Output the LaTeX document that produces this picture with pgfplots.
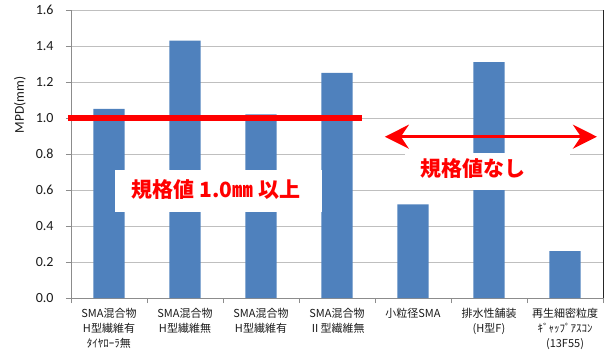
\documentclass[border=0pt]{standalone}
\usepackage{pgfplots}
\pgfplotsset{compat=1.18}
\usetikzlibrary{arrows.meta}
\usepackage{fontspec}
\setmainfont{Carlito}
\newfontfamily\cjk{Noto Sans CJK JP}

\definecolor{barblue}{HTML}{4F81BD}
\definecolor{gridgray}{HTML}{BFBFBF}
\definecolor{axisgray}{HTML}{8C8C8C}
\definecolor{labelgray}{HTML}{1A1A1A}

\begin{document}
\begin{tikzpicture}
\path[use as bounding box] (-71bp,-53bp) rectangle (538bp,298bp);
\begin{axis}[
  scale only axis,
  width=532bp, height=288bp,
  xmin=-0.5, xmax=6.5, ymin=0, ymax=1.6,
  clip=false,
  axis lines=left,
  axis line style={-, draw=axisgray, line width=0.8bp},
  tick align=outside,
  major tick length=5bp,
  tick style={draw=axisgray, line width=0.8bp},
  % ticks sit on the category boundaries, names are centred between them
  xtick={-0.5,0.5,...,6.5},
  xticklabels={
    {SMA混合物\\H型繊維有\\ﾀｲﾔﾛｰﾗ無},
    {SMA混合物\\H型繊維無},
    {SMA混合物\\H型繊維有},
    {SMA混合物\\Ⅱ型繊維無},
    {小粒径SMA},
    {排水性舗装\\(H型F)},
    {再生細密粒度\\ｷﾞｬｯﾌﾟｱｽｺﾝ\\(13F55)},
    {}},
  x tick label style={align=center, anchor=north, xshift=38bp, yshift=-2bp,
    font=\fontsize{11bp}{15bp}\selectfont\cjk, text=labelgray},
  ytick={0,0.2,...,1.6},
  y tick label style={font=\fontsize{14bp}{16bp}\selectfont, text=labelgray, xshift=-9bp},
  /pgf/number format/.cd, fixed, fixed zerofill, precision=1, assume math mode=true,
  /pgfplots/.cd,
  ymajorgrids,
  grid style={draw=gridgray, line width=0.9bp},
  ylabel={MPD(mm)},
  ylabel style={at={(rel axis cs:0,0.67)}, anchor=center, yshift=51bp,
    font=\fontsize{13.5bp}{15bp}\selectfont, text=labelgray},
]
\addplot[ybar, bar width=0.41, fill=barblue, draw=none]
  coordinates {(0,1.05) (1,1.43) (2,1.02) (3,1.25) (4,0.52) (5,1.31) (6,0.26)};

% threshold line at 1.0 mm
\addplot[red, line width=6bp, forget plot] coordinates {(-0.54,1.0) (3.33,1.0)};

% right frame
\draw[black!85, line width=1bp] (rel axis cs:1,0) -- (rel axis cs:1,1);

% annotation boxes
\node[fill=white, minimum width=207bp, minimum height=42bp, inner sep=0pt]
  at (axis cs:1.44,0.594) {};
\node[text=red, inner sep=0pt, font=\fontsize{21bp}{21bp}\selectfont\cjk\bfseries]
  at (axis cs:1.41,0.6) {規格値 1.0㎜ 以上};

\node[fill=white, minimum width=165bp, minimum height=37bp, inner sep=0pt]
  at (axis cs:4.98,0.703) {};
\node[text=red, inner sep=0pt, font=\fontsize{21bp}{21bp}\selectfont\cjk\bfseries]
  at (axis cs:4.796,0.717) {規格値なし};

\draw[red, line width=2.6bp,
  {Stealth[length=24bp,width=24bp,inset=8bp]}-{Stealth[length=24bp,width=24bp,inset=8bp]}]
  (axis cs:3.63,0.896) -- (axis cs:6.42,0.896);
\end{axis}
\end{tikzpicture}
\end{document}
